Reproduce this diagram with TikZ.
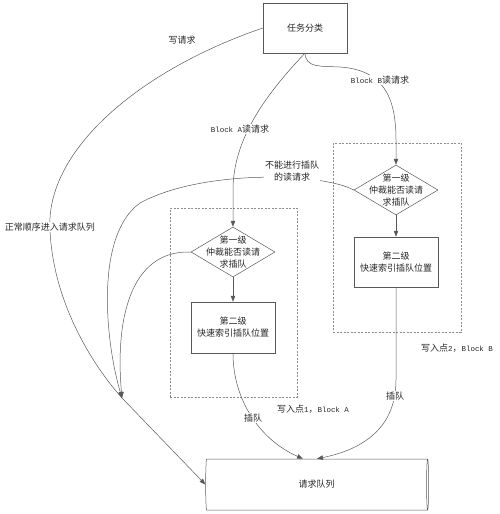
\documentclass[tikz,border=0pt]{standalone}
\usepackage{fontspec}
\newfontfamily\cjk{Noto Sans CJK SC}
\newfontfamily\latf{Liberation Mono}[Scale=0.83]
\newcommand{\lat}[1]{{\latf #1}}
\usetikzlibrary{shapes.geometric,arrows.meta,calc}
\begin{document}
\begin{tikzpicture}[x=1pt,y=-1pt,
  every node/.style={font=\cjk\fontsize{9}{12}\selectfont, text=black!85},
  ln/.style={draw=black!65, line width=0.5pt},
  arr/.style={ln, -{Triangle[length=6pt,width=4.5pt]}},
  box/.style={draw=black!65, line width=0.5pt, minimum width=84pt, minimum height=51pt, inner sep=0pt, align=center},
  dia/.style={diamond, draw=black!65, line width=0.5pt, minimum width=84pt, minimum height=50pt, inner sep=0pt},
  grp/.style={draw=black!45, line width=0.5pt, dash pattern=on 2pt off 1.5pt, inner sep=0pt},
  lbl/.style={fill=white, inner sep=1pt, align=center},
  txt/.style={inner sep=1pt, align=center}]
\useasboundingbox (0,0) rectangle (500,514);
% groups
\node[grp, minimum width=127pt, minimum height=189pt] (gA) at (233.5,302.5) {};
\node[grp, minimum width=128pt, minimum height=189pt] (gB) at (397,237.5) {};
% nodes
\node[box, minimum height=50pt] (task) at (305,28) {任务分类};
\node[dia] (dA) at (233,252) {};
\node[txt] (tA) at (dA.center) {第一级\\仲裁能否读请\\求插队};
\node[box] (bA) at (233,327.5) {第二级\\快速索引插队位置};
\node[dia] (dB) at (396,190) {};
\node[txt] (tB) at (dB.center) {第一级\\仲裁能否读请\\求插队};
\node[box, minimum height=50pt] (bB) at (396,262) {第二级\\快速索引插队位置};
\node[cylinder, draw=black!65, line width=0.5pt, minimum height=223pt, minimum width=51pt, shape aspect=0.25, inner sep=0pt] (q) at (316.5,484.5) {请求队列};
\coordinate (m) at (122,398);
\coordinate (qA) at ($(q.north)+(-13.5,0)$);
\coordinate (qB) at ($(q.north)+(0.5,0)$);
% connectors
\draw[arr] (task.west) .. controls (140,70) and (45,150) .. (50,230) .. controls (53,300) and (90,362) .. (m) -- (q.west);
\draw[arr] (task.south) .. controls (265,95) and (233,140) .. (233,190) -- (dA.north);
\draw[arr] (task.south) .. controls (306,68) and (320,66) .. (340,67) .. controls (382,70) and (396,95) .. (396,140) -- (dB.north);
\draw[arr] (dB.west) .. controls (320,172) and (200,170) .. (140,203) .. controls (95,235) and (105,340) .. (m);
\draw[arr] (dA.west) .. controls (130,250) and (115,320) .. (m);
\draw[arr] (dA.south) -- (bA.north);
\draw[arr] (dB.south) -- (bB.north);
\draw[arr] (bA.south) .. controls (233,400) and (260,440) .. (qA);
\draw[arr] (bB.south) -- (396,380) .. controls (396,430) and (360,450) .. (qB);
% labels
\node[txt] (lw) at (182,40) {写请求};
\node[lbl] (ln) at (50,227) {正常顺序进入请求队列};
\node[lbl] (la) at (240,129) {\lat{Block A}读请求};
\node[lbl] (lb) at (380,80) {\lat{Block B}读请求};
\node[lbl] (lc) at (292,171) {不能进行插队\\的读请求};
\node[lbl] (l1) at (253,418) {插队};
\node[lbl] (l2) at (395,396) {插队};
\node[txt] (w1) at (313,409) {写入点\lat{1}，\lat{Block A}};
\node[txt] (w2) at (457,348) {写入点\lat{2}，\lat{Block B}};
\end{tikzpicture}
\end{document}
